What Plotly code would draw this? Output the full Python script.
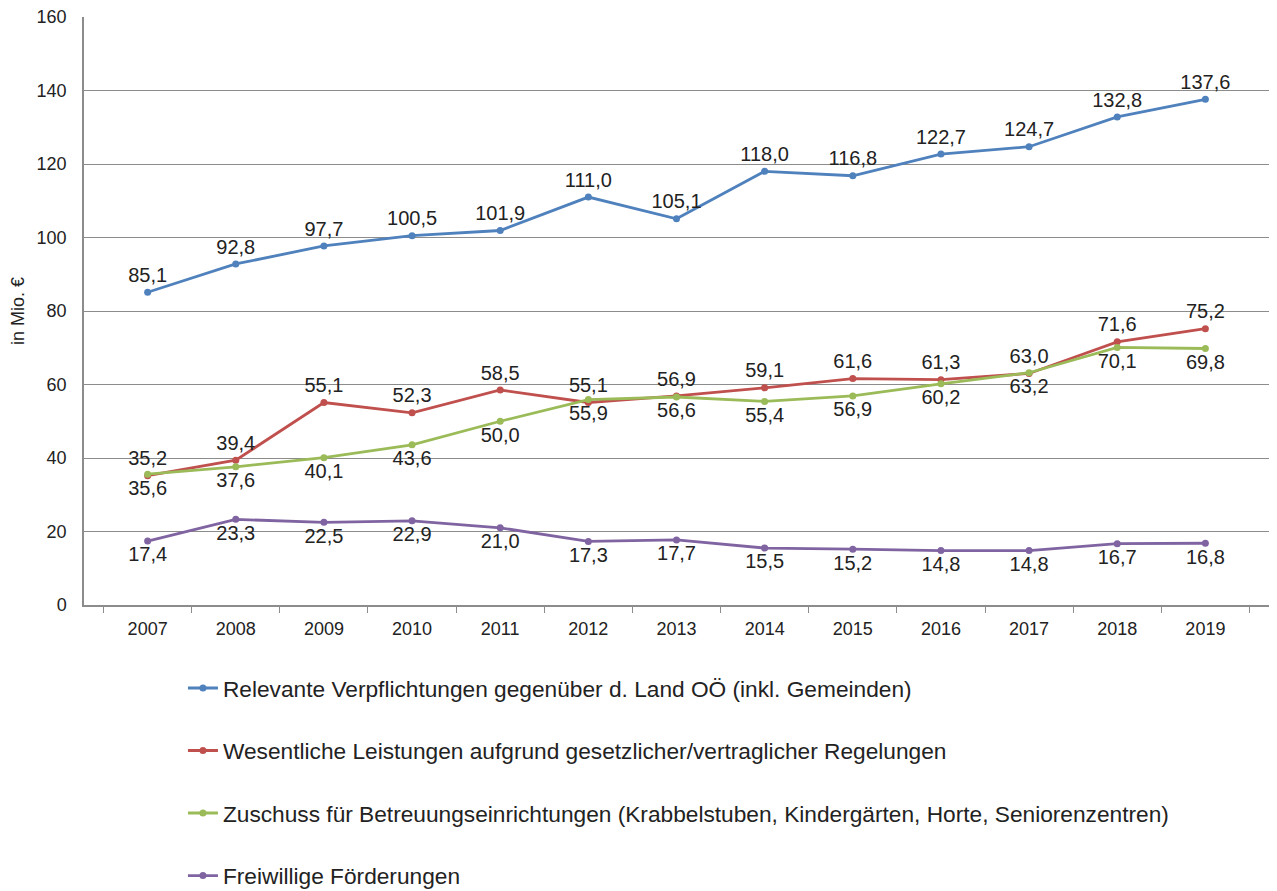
import plotly.graph_objects as go

years = [str(y) for y in range(2007, 2020)]

relevante = [85.1, 92.8, 97.7, 100.5, 101.9, 111.0, 105.1, 118.0, 116.8, 122.7, 124.7, 132.8, 137.6]
wesentliche = [35.2, 39.4, 55.1, 52.3, 58.5, 55.1, 56.9, 59.1, 61.6, 61.3, 63.0, 71.6, 75.2]
zuschuss = [35.6, 37.6, 40.1, 43.6, 50.0, 55.9, 56.6, 55.4, 56.9, 60.2, 63.2, 70.1, 69.8]
freiwillige = [17.4, 23.3, 22.5, 22.9, 21.0, 17.3, 17.7, 15.5, 15.2, 14.8, 14.8, 16.7, 16.8]

names = [
    "Relevante Verpflichtungen gegenüber d. Land OÖ (inkl. Gemeinden)",
    "Wesentliche Leistungen aufgrund gesetzlicher/vertraglicher Regelungen",
    "Zuschuss für Betreuungseinrichtungen (Krabbelstuben, Kindergärten, Horte, Seniorenzentren)",
    "Freiwillige Förderungen",
]
colors = ["#4F81BD", "#C0504D", "#9BBB59", "#8064A2"]
positions = ["top center", "top center", "bottom center", "bottom center"]

def fmt(v):
    return f"{v:.1f}".replace(".", ",")

fig = go.Figure()
for i, vals in enumerate([relevante, wesentliche, zuschuss, freiwillige]):
    fig.add_trace(go.Scatter(
        x=years,
        y=vals,
        name=names[i],
        legendgroup=str(i),
        mode="lines+markers+text",
        line=dict(color=colors[i], width=2.8),
        marker=dict(color=colors[i], size=7),
        text=[fmt(v) for v in vals],
        textposition=positions[i],
        textfont=dict(size=20, color="#222222"),
        cliponaxis=False,
    ))

fig.update_yaxes(
    range=[0, 160],
    dtick=20,
    showgrid=True,
    gridcolor="#8c8c8c",
    gridwidth=1,
    showline=True,
    linecolor="#8c8c8c",
    linewidth=1.5,
    zeroline=False,
    tickfont=dict(size=18, color="#222222"),
    ticks="",
    ticklabelstandoff=12,
    ticklabeloverflow="allow",
    automargin=False,
    title=dict(text="in Mio. €", font=dict(size=18, color="#222222"), standoff=12),
)

fig.update_xaxes(
    type="category",
    tickson="boundaries",
    ticks="outside",
    ticklen=6,
    tickcolor="#8c8c8c",
    showgrid=False,
    showline=True,
    linecolor="#8c8c8c",
    linewidth=1.5,
    ticklabelstandoff=7,
    automargin=False,
    tickfont=dict(size=18, color="#222222"),
)

# the page body keeps its default 8px margin, so the figure is a bit smaller
fig.update_layout(
    width=1269,
    height=883,
    margin=dict(l=76, r=8, t=9, b=286, autoexpand=False),
    plot_bgcolor="white",
    paper_bgcolor="white",
    font=dict(family="Liberation Sans, Arial, sans-serif"),
    legend=dict(
        x=0.0835,
        y=-0.105,
        xanchor="left",
        yanchor="top",
        orientation="v",
        traceorder="grouped",
        tracegroupgap=30,
        font=dict(size=22.7, color="#222222"),
        itemwidth=30,
    ),
)

fig.write_html("out.html")
